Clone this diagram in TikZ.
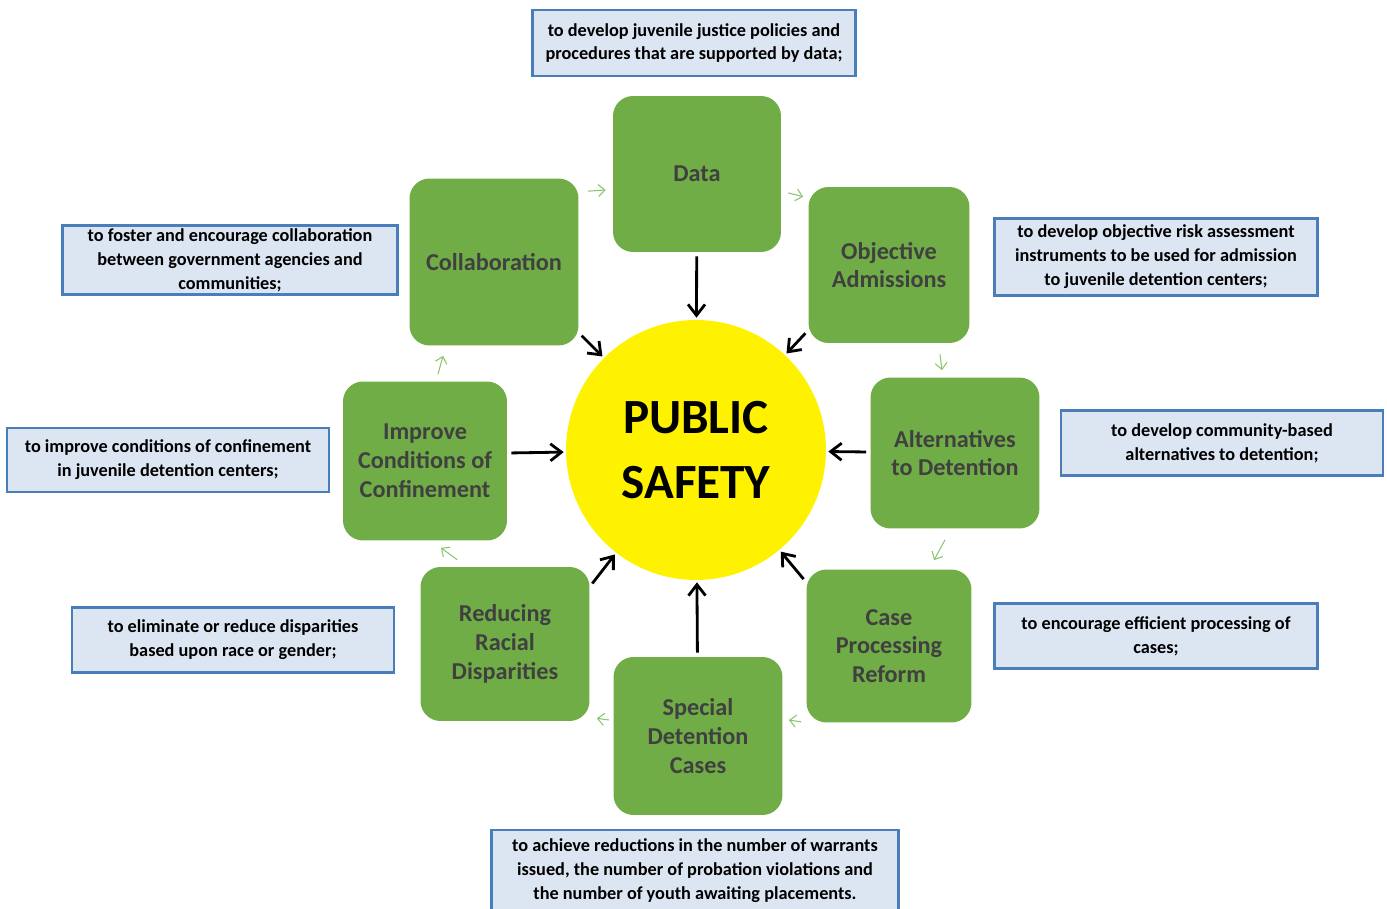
\documentclass[tikz,border=0pt]{standalone}
\usepackage{fontspec}
\setmainfont{Carlito}
\usetikzlibrary{arrows.meta,positioning}
\definecolor{stagegreen}{RGB}{112,173,71}
\definecolor{stagetext}{RGB}{64,64,64}
\definecolor{notefill}{RGB}{220,230,242}
\definecolor{noteline}{RGB}{74,126,187}
\definecolor{flowgreen}{RGB}{140,196,110}

\begin{document}
\begin{tikzpicture}
[x=0.02cm,y=-0.02cm,
stage/.style={rectangle,rounded corners=0.4cm,fill=stagegreen,text=stagetext,inner sep=0pt,
  align=center,font=\fontsize{13.8}{16.4}\selectfont\bfseries},
note/.style={rectangle,fill=notefill,draw=noteline,line width=1.2pt,inner sep=0pt,
  align=center,font=\fontsize{10.4}{13.6}\selectfont\bfseries},
%
toward/.style={line width=1.6pt,black,shorten <=0.08cm,shorten >=0.04cm,
  -{Straight Barb[length=2.2mm,width=3.4mm]}},
flow/.style={flowgreen,line width=0.6pt,-{Straight Barb[length=1.3mm,width=2.4mm]}}]
%
\useasboundingbox (0,0) rectangle (1387,909);
%
\node (safety) [circle,fill=yellow,minimum size=5.2cm,inner sep=0pt,align=center,
  font=\fontsize{28}{36.8}\selectfont\bfseries] at (696,450) {PUBLIC\\SAFETY};
%
\node (data) [stage,minimum width=3.36cm,minimum height=3.12cm] at (697,174) {Data};
\node (objective) [stage,minimum width=3.22cm,minimum height=3.12cm] at (889,265) {Objective\\Admissions};
\node (altern) [stage,minimum width=3.38cm,minimum height=3.02cm] at (955,453) {Alternatives\\to Detention};
\node (caseproc) [stage,minimum width=3.30cm,minimum height=3.06cm] at (889,646) {Case\\Processing\\Reform};
\node (special) [stage,minimum width=3.38cm,minimum height=3.16cm] at (698,736) {Special\\Detention\\Cases};
\node (reducing) [stage,minimum width=3.38cm,minimum height=3.08cm] at (505,644) {Reducing\\Racial\\Disparities};
\node (improve) [stage,minimum width=3.28cm,minimum height=3.18cm] at (425,461) {Improve\\Conditions of\\Confinement};
\node (collab) [stage,minimum width=3.38cm,minimum height=3.34cm] at (494,262) {Collaboration};
%
\node (datanote) [note,minimum width=6.46cm,minimum height=1.32cm] at (694,43)
  {to develop juvenile justice policies and\\procedures that are supported by data;};
\node (collabnote) [note,minimum width=6.70cm,minimum height=1.38cm] at (230,260)
  {to foster and encourage collaboration\\between government agencies and\\communities;};
\node (objnote) [note,minimum width=6.46cm,minimum height=1.54cm] at (1156,257)
  {to develop objective risk assessment\\instruments to be used for admission\\to juvenile detention centers;};
\node (alternnote) [note,minimum width=6.44cm,minimum height=1.30cm] at (1222,443)
  {to develop community-based\\alternatives to detention;};
\node (improvenote) [note,minimum width=6.44cm,minimum height=1.28cm] at (168,460)
  {to improve conditions of confinement\\in juvenile detention centers;};
\node (casenote) [note,minimum width=6.46cm,minimum height=1.30cm] at (1156,636)
  {to encourage efficient processing of\\cases;};
\node (reducingnote) [note,minimum width=6.44cm,minimum height=1.30cm] at (233,640)
  {to eliminate or reduce disparities\\based upon race or gender;};
\node (specialnote) [note,minimum width=8.14cm,minimum height=1.64cm] at (695,871)
  {to achieve reductions in the number of warrants\\issued, the number of probation violations and\\the number of youth awaiting placements.};
%
\draw[toward] (data) -- (safety);
\draw[toward] ([yshift=0.26cm]objective.south west) -- (safety);
\draw[toward] (altern) -- (safety);
\draw[toward] ([yshift=-0.26cm]caseproc.north west) -- (safety);
\draw[toward] (special) -- (safety);
\draw[toward] ([yshift=-0.4cm]reducing.north east) -- (safety);
\draw[toward] ([yshift=0.16cm]improve.east) -- (safety);
\draw[toward] ([yshift=0.26cm]collab.south east) -- (safety);
%
\draw[flow] ([shift={(9,13)}]collab.north east) -- ([shift={(-7,16)}]data.west);
\draw[flow] ([shift={(7,19)}]data.east) -- ([shift={(-5,10)}]objective.north west);
\draw[flow] ([shift={(51,11)}]objective.south) -- ([shift={(-13,-7)}]altern.north);
\draw[flow] ([shift={(-10,11)}]altern.south) -- ([shift={(45,-9)}]caseproc.north);
\draw[flow] ([shift={(-5,-1)}]caseproc.south west) -- ([shift={(6,-16)}]special.east);
\draw[flow] ([shift={(-4,-16)}]special.west) -- ([shift={(7,-3)}]reducing.south east);
\draw[flow] ([shift={(37,-7)}]reducing.north west) -- ([shift={(16,7)}]improve.south);
\draw[flow] ([shift={(13,-7)}]improve.north) -- ([shift={(-51,10)}]collab.south);
\end{tikzpicture}
\end{document}
